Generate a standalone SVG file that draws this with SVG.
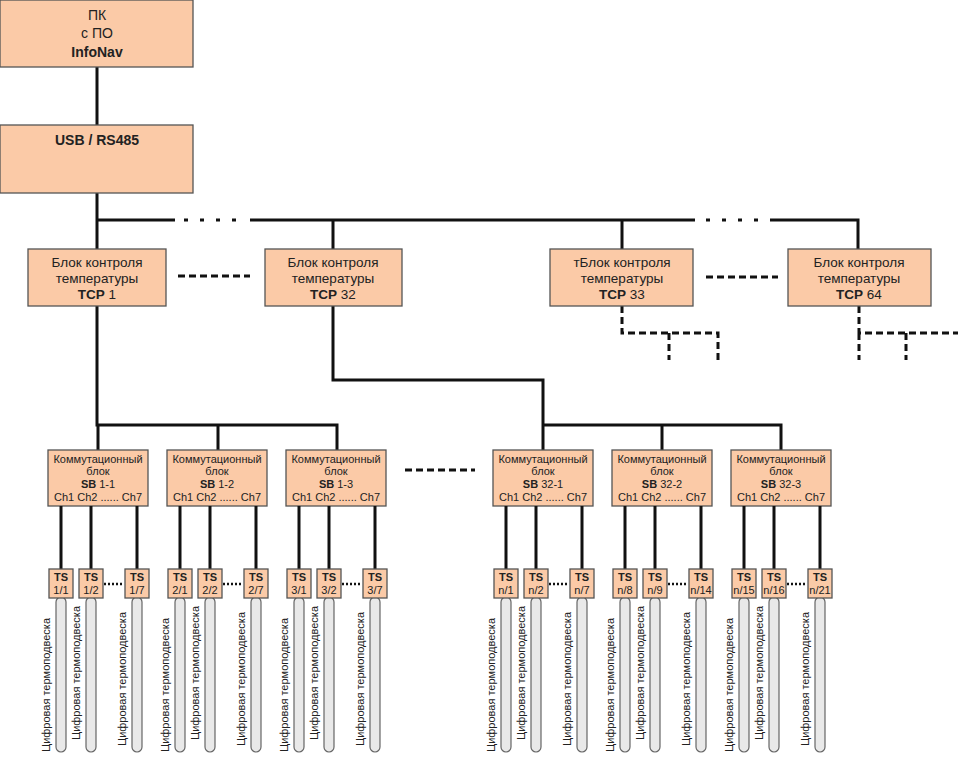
<svg xmlns="http://www.w3.org/2000/svg" width="958" height="763" viewBox="0 0 958 763">
<style>
.b{fill:#fbcaa7;stroke:#555;stroke-width:1.3}
.t{font-family:"Liberation Sans",Arial,sans-serif;fill:#222;text-anchor:middle}
.big{font-size:14px}.mid{font-size:13.5px}.sm{font-size:11px}
.w{stroke:#111;stroke-width:3;fill:none}
.d{stroke:#111;stroke-width:3;fill:none;stroke-dasharray:7 4}
.dt{stroke:#111;stroke-width:3;fill:none;stroke-dasharray:4 12}
.p{fill:#e9e9e9;stroke:#666;stroke-width:1.2}
.pl{font-family:"Liberation Sans",Arial,sans-serif;font-size:11px;fill:#222}
.ts{font-family:"Liberation Sans",Arial,sans-serif;font-size:11px;fill:#222;text-anchor:middle}
</style>
<g id="connectors">
<path class="w" d="M97 67V125M97 193V220H175M250 220H695M770 220H858V249M97 220V249M333 220V249M622 220V249"/>
<path class="dt" d="M184 220H245M706 220H767"/>
<path class="d" d="M178 276H250M706 277H778M405 470H475"/>
<path class="d" d="M622 306V333H718V360M669 333V360M859 306V333H958M906 333V360M859 333V360"/>
<path class="w" d="M97 305V425H337V450M98 425V450M218 425V450M333 305V380H543V450M543 425H781V450M662 425V450"/>
</g>
<g id="pc"><rect class="b" x="0" y="0" width="193" height="67"/>
<text class="t big" x="97" y="20">ПК</text><text class="t big" x="97" y="38">с ПО</text><text class="t big" x="97" y="57" font-weight="bold">InfoNav</text></g>
<g id="usb"><rect class="b" x="0" y="125" width="193" height="68"/>
<text class="t big" x="97" y="145" font-weight="bold">USB / RS485</text></g>
<g id="tcp1"><rect class="b" x="28" y="249" width="138" height="57"/><text class="t mid" x="97" y="267">Блок контроля</text><text class="t mid" x="97" y="283">температуры</text><text class="t mid" x="97" y="299"><tspan font-weight="bold">TCP</tspan> 1</text></g>
<g id="tcp32"><rect class="b" x="265" y="249" width="137" height="57"/><text class="t mid" x="333" y="267">Блок контроля</text><text class="t mid" x="333" y="283">температуры</text><text class="t mid" x="333" y="299"><tspan font-weight="bold">TCP</tspan> 32</text></g>
<g id="tcp33"><rect class="b" x="550" y="249" width="143" height="57"/><text class="t mid" x="622" y="267">тБлок контроля</text><text class="t mid" x="622" y="283">температуры</text><text class="t mid" x="622" y="299"><tspan font-weight="bold">TCP</tspan> 33</text></g>
<g id="tcp64"><rect class="b" x="788" y="249" width="143" height="57"/><text class="t mid" x="859" y="267">Блок контроля</text><text class="t mid" x="859" y="283">температуры</text><text class="t mid" x="859" y="299"><tspan font-weight="bold">TCP</tspan> 64</text></g>
<g id="sb1-1"><rect class="b" x="48" y="450" width="100" height="56"/><text class="t sm" x="98" y="463">Коммутационный</text><text class="t sm" x="98" y="475">блок</text><text class="t sm" x="98" y="488"><tspan font-weight="bold">SB</tspan> 1-1</text><text class="t sm" x="98" y="501">Ch1 Ch2 ...... Ch7</text></g>
<g id="sb1-2"><rect class="b" x="167" y="450" width="100" height="56"/><text class="t sm" x="217" y="463">Коммутационный</text><text class="t sm" x="217" y="475">блок</text><text class="t sm" x="217" y="488"><tspan font-weight="bold">SB</tspan> 1-2</text><text class="t sm" x="217" y="501">Ch1 Ch2 ...... Ch7</text></g>
<g id="sb1-3"><rect class="b" x="286" y="450" width="100" height="56"/><text class="t sm" x="336" y="463">Коммутационный</text><text class="t sm" x="336" y="475">блок</text><text class="t sm" x="336" y="488"><tspan font-weight="bold">SB</tspan> 1-3</text><text class="t sm" x="336" y="501">Ch1 Ch2 ...... Ch7</text></g>
<g id="sb32-1"><rect class="b" x="493" y="450" width="100" height="56"/><text class="t sm" x="543" y="463">Коммутационный</text><text class="t sm" x="543" y="475">блок</text><text class="t sm" x="543" y="488"><tspan font-weight="bold">SB</tspan> 32-1</text><text class="t sm" x="543" y="501">Ch1 Ch2 ...... Ch7</text></g>
<g id="sb32-2"><rect class="b" x="612" y="450" width="100" height="56"/><text class="t sm" x="662" y="463">Коммутационный</text><text class="t sm" x="662" y="475">блок</text><text class="t sm" x="662" y="488"><tspan font-weight="bold">SB</tspan> 32-2</text><text class="t sm" x="662" y="501">Ch1 Ch2 ...... Ch7</text></g>
<g id="sb32-3"><rect class="b" x="731" y="450" width="100" height="56"/><text class="t sm" x="781" y="463">Коммутационный</text><text class="t sm" x="781" y="475">блок</text><text class="t sm" x="781" y="488"><tspan font-weight="bold">SB</tspan> 32-3</text><text class="t sm" x="781" y="501">Ch1 Ch2 ...... Ch7</text></g>
<g id="channels">
<path class="w" d="M61 506V569M91 506V569M137 506V569M180 506V569M210 506V569M256 506V569M299 506V569M329 506V569M375 506V569M506 506V569M536 506V569M582 506V569M625 506V569M655 506V569M701 506V569M744 506V569M774 506V569M820 506V569"/>
<path stroke="#111" stroke-width="2.5" stroke-dasharray="2 2" d="M104 584H124M223 584H243M342 584H362M549 584H569M668 584H688M787 584H807"/>
</g>
<g id="ts-1-1"><rect class="p" x="56" y="597" width="10" height="155" rx="5"/><rect class="b" x="49" y="569" width="24" height="29"/><text class="ts" x="61" y="581" font-weight="bold">TS</text><text class="ts" x="61" y="594">1/1</text><text class="pl" transform="translate(50,752) rotate(-90)">Цифровая термоподвеска</text></g>
<g id="ts-1-2"><rect class="p" x="86" y="597" width="10" height="155" rx="5"/><rect class="b" x="79" y="569" width="24" height="29"/><text class="ts" x="91" y="581" font-weight="bold">TS</text><text class="ts" x="91" y="594">1/2</text><text class="pl" transform="translate(80,740) rotate(-90)">Цифровая термоподвеска</text></g>
<g id="ts-1-7"><rect class="p" x="132" y="597" width="10" height="155" rx="5"/><rect class="b" x="125" y="569" width="24" height="29"/><text class="ts" x="137" y="581" font-weight="bold">TS</text><text class="ts" x="137" y="594">1/7</text><text class="pl" transform="translate(126,746) rotate(-90)">Цифровая термоподвеска</text></g>
<g id="ts-2-1"><rect class="p" x="175" y="597" width="10" height="155" rx="5"/><rect class="b" x="168" y="569" width="24" height="29"/><text class="ts" x="180" y="581" font-weight="bold">TS</text><text class="ts" x="180" y="594">2/1</text><text class="pl" transform="translate(169,752) rotate(-90)">Цифровая термоподвеска</text></g>
<g id="ts-2-2"><rect class="p" x="205" y="597" width="10" height="155" rx="5"/><rect class="b" x="198" y="569" width="24" height="29"/><text class="ts" x="210" y="581" font-weight="bold">TS</text><text class="ts" x="210" y="594">2/2</text><text class="pl" transform="translate(199,740) rotate(-90)">Цифровая термоподвеска</text></g>
<g id="ts-2-7"><rect class="p" x="251" y="597" width="10" height="155" rx="5"/><rect class="b" x="244" y="569" width="24" height="29"/><text class="ts" x="256" y="581" font-weight="bold">TS</text><text class="ts" x="256" y="594">2/7</text><text class="pl" transform="translate(245,746) rotate(-90)">Цифровая термоподвеска</text></g>
<g id="ts-3-1"><rect class="p" x="294" y="597" width="10" height="155" rx="5"/><rect class="b" x="287" y="569" width="24" height="29"/><text class="ts" x="299" y="581" font-weight="bold">TS</text><text class="ts" x="299" y="594">3/1</text><text class="pl" transform="translate(288,752) rotate(-90)">Цифровая термоподвеска</text></g>
<g id="ts-3-2"><rect class="p" x="324" y="597" width="10" height="155" rx="5"/><rect class="b" x="317" y="569" width="24" height="29"/><text class="ts" x="329" y="581" font-weight="bold">TS</text><text class="ts" x="329" y="594">3/2</text><text class="pl" transform="translate(318,740) rotate(-90)">Цифровая термоподвеска</text></g>
<g id="ts-3-7"><rect class="p" x="370" y="597" width="10" height="155" rx="5"/><rect class="b" x="363" y="569" width="24" height="29"/><text class="ts" x="375" y="581" font-weight="bold">TS</text><text class="ts" x="375" y="594">3/7</text><text class="pl" transform="translate(364,746) rotate(-90)">Цифровая термоподвеска</text></g>
<g id="ts-n-1"><rect class="p" x="501" y="597" width="10" height="155" rx="5"/><rect class="b" x="494" y="569" width="24" height="29"/><text class="ts" x="506" y="581" font-weight="bold">TS</text><text class="ts" x="506" y="594">n/1</text><text class="pl" transform="translate(495,752) rotate(-90)">Цифровая термоподвеска</text></g>
<g id="ts-n-2"><rect class="p" x="531" y="597" width="10" height="155" rx="5"/><rect class="b" x="524" y="569" width="24" height="29"/><text class="ts" x="536" y="581" font-weight="bold">TS</text><text class="ts" x="536" y="594">n/2</text><text class="pl" transform="translate(525,740) rotate(-90)">Цифровая термоподвеска</text></g>
<g id="ts-n-7"><rect class="p" x="577" y="597" width="10" height="155" rx="5"/><rect class="b" x="570" y="569" width="24" height="29"/><text class="ts" x="582" y="581" font-weight="bold">TS</text><text class="ts" x="582" y="594">n/7</text><text class="pl" transform="translate(571,746) rotate(-90)">Цифровая термоподвеска</text></g>
<g id="ts-n-8"><rect class="p" x="620" y="597" width="10" height="155" rx="5"/><rect class="b" x="613" y="569" width="24" height="29"/><text class="ts" x="625" y="581" font-weight="bold">TS</text><text class="ts" x="625" y="594">n/8</text><text class="pl" transform="translate(614,752) rotate(-90)">Цифровая термоподвеска</text></g>
<g id="ts-n-9"><rect class="p" x="650" y="597" width="10" height="155" rx="5"/><rect class="b" x="643" y="569" width="24" height="29"/><text class="ts" x="655" y="581" font-weight="bold">TS</text><text class="ts" x="655" y="594">n/9</text><text class="pl" transform="translate(644,740) rotate(-90)">Цифровая термоподвеска</text></g>
<g id="ts-n-14"><rect class="p" x="696" y="597" width="10" height="155" rx="5"/><rect class="b" x="689" y="569" width="24" height="29"/><text class="ts" x="701" y="581" font-weight="bold">TS</text><text class="ts" x="701" y="594">n/14</text><text class="pl" transform="translate(690,746) rotate(-90)">Цифровая термоподвеска</text></g>
<g id="ts-n-15"><rect class="p" x="739" y="597" width="10" height="155" rx="5"/><rect class="b" x="732" y="569" width="24" height="29"/><text class="ts" x="744" y="581" font-weight="bold">TS</text><text class="ts" x="744" y="594">n/15</text><text class="pl" transform="translate(733,752) rotate(-90)">Цифровая термоподвеска</text></g>
<g id="ts-n-16"><rect class="p" x="769" y="597" width="10" height="155" rx="5"/><rect class="b" x="762" y="569" width="24" height="29"/><text class="ts" x="774" y="581" font-weight="bold">TS</text><text class="ts" x="774" y="594">n/16</text><text class="pl" transform="translate(763,740) rotate(-90)">Цифровая термоподвеска</text></g>
<g id="ts-n-21"><rect class="p" x="815" y="597" width="10" height="155" rx="5"/><rect class="b" x="808" y="569" width="24" height="29"/><text class="ts" x="820" y="581" font-weight="bold">TS</text><text class="ts" x="820" y="594">n/21</text><text class="pl" transform="translate(809,746) rotate(-90)">Цифровая термоподвеска</text></g>
</svg>
